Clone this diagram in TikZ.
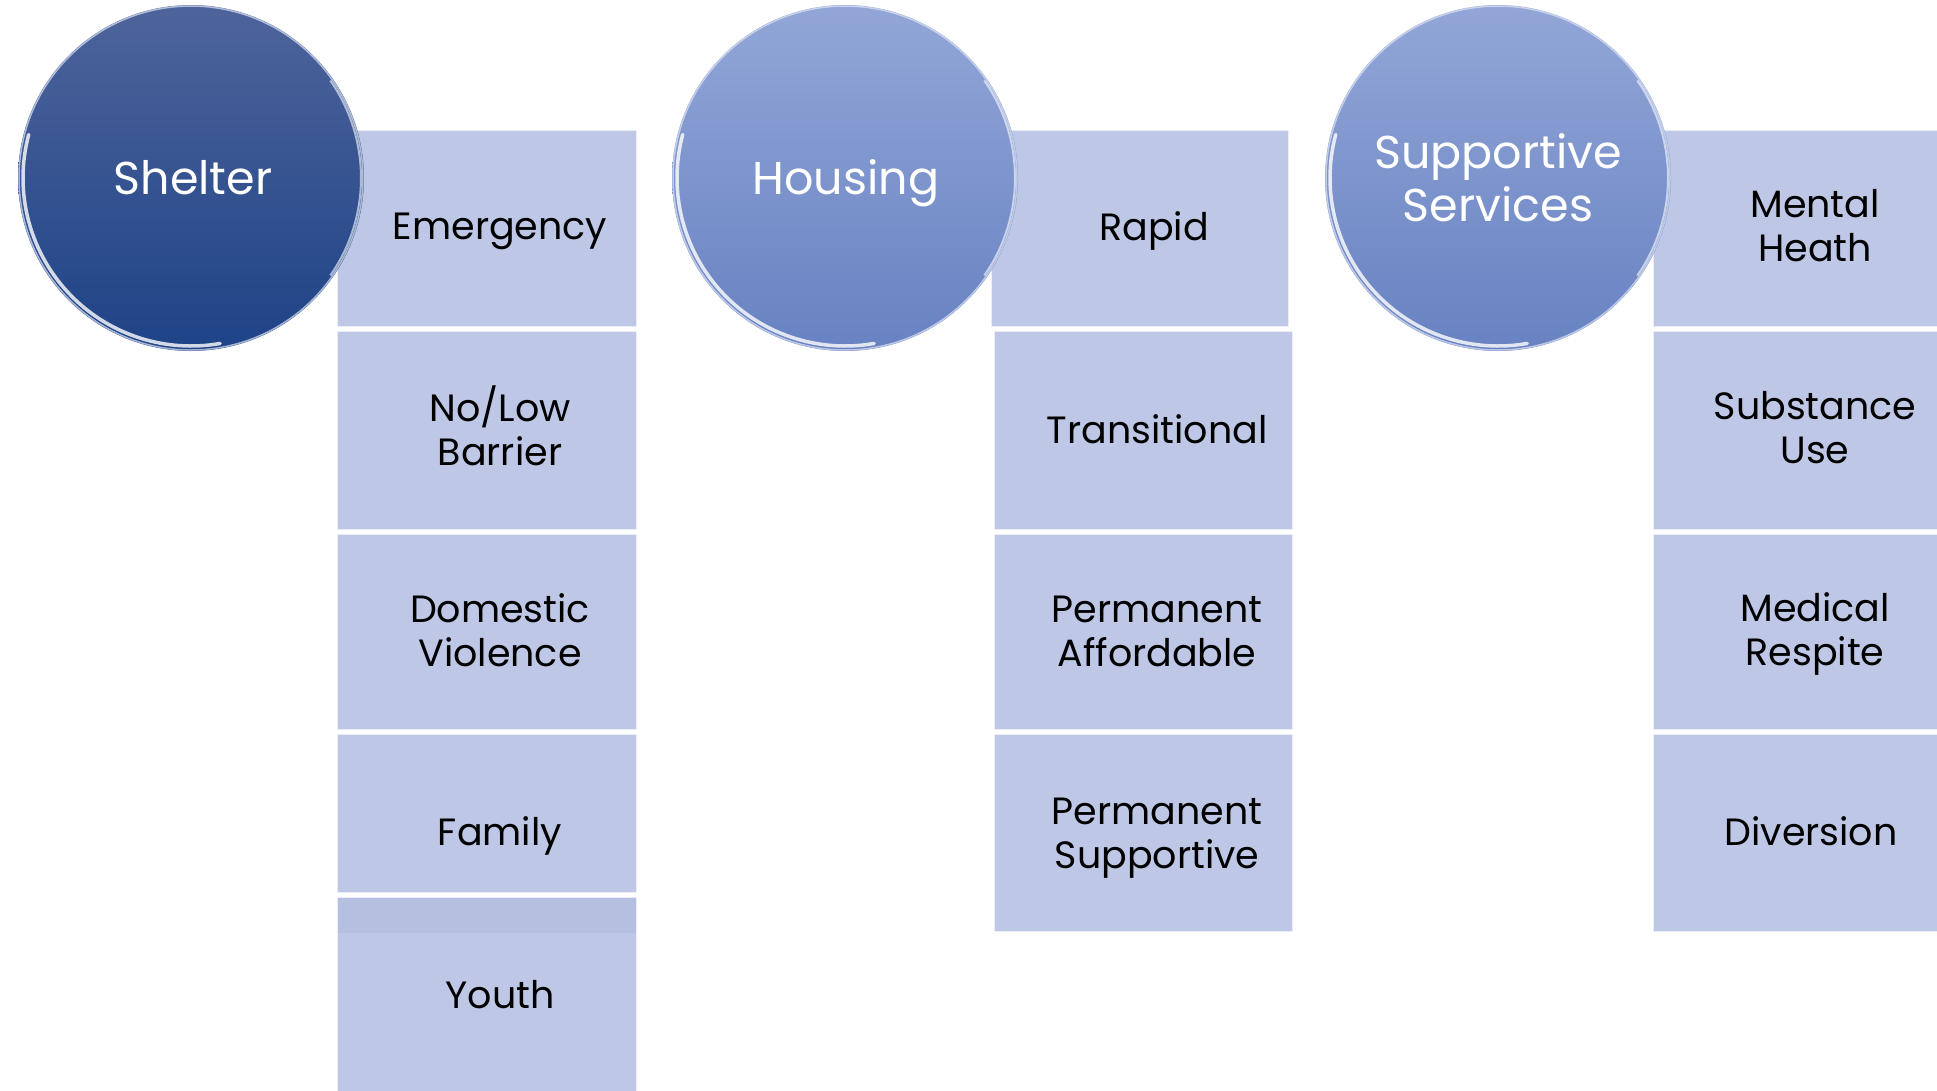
\documentclass[tikz,border=0pt]{standalone}
\usepackage{fontspec}
\setmainfont{Poppins}
\usetikzlibrary{shadings}
\definecolor{boxfill}{RGB}{190,200,230}
\definecolor{boxband}{RGB}{181,192,224}
\definecolor{shtop}{RGB}{78,100,155}
\definecolor{shbot}{RGB}{30,67,135}
\definecolor{hotop}{RGB}{146,166,215}
\definecolor{hobot}{RGB}{104,130,194}
\tikzset{
  boxnode/.style={draw=white!70!boxfill, line width=1pt, fill=boxfill, anchor=north west, inner sep=0pt},
  boxtext/.style={font=\fontsize{38}{44}\selectfont, align=center, text=black, inner sep=0pt},
  circtext/.style={font=\fontsize{46}{53}\selectfont, align=center, text=white, inner sep=0pt},
  darkball/.style={circle, minimum size=346pt, inner sep=0pt, top color=shtop, bottom color=shbot},
  lightball/.style={circle, minimum size=346pt, inner sep=0pt, top color=hotop, bottom color=hobot},
  gloss/.style={white, line width=3.5pt, opacity=0.8, line cap=round},
  rim/.style={white!70!hotop, line width=1.5pt, opacity=0.7}
}
\begin{document}
\begin{tikzpicture}[x=1pt,y=-1pt]
\useasboundingbox (0,0) rectangle (1937,1090);
\fill[white] (0,0) rectangle (1937,1090);
% Shelter column boxes
\node[boxnode, minimum width=299pt, minimum height=196pt] (b11) at (337,130) {};
\node[boxnode, minimum width=299pt, minimum height=198pt] (b12) at (337,331) {};
\node[boxnode, minimum width=299pt, minimum height=195pt] (b13) at (337,534) {};
\node[boxnode, minimum width=299pt, minimum height=158pt] (b14) at (337,734) {};
\node[boxnode, minimum width=299pt, minimum height=200pt] (b15) at (337,897) {};
\fill[boxband] ([xshift=1pt,yshift=-1pt]b15.north west) rectangle ([xshift=-1pt,yshift=-36pt]b15.north east);
% Housing column boxes
\node[boxnode, minimum width=297pt, minimum height=196pt] (b21) at (991,130) {};
\node[boxnode, minimum width=298pt, minimum height=198pt] (b22) at (994,331) {};
\node[boxnode, minimum width=298pt, minimum height=195pt] (b23) at (994,534) {};
\node[boxnode, minimum width=298pt, minimum height=197pt] (b24) at (994,734) {};
% Supportive column boxes
\node[boxnode, minimum width=300pt, minimum height=196pt] (b31) at (1653,130) {};
\node[boxnode, minimum width=300pt, minimum height=198pt] (b32) at (1653,331) {};
\node[boxnode, minimum width=300pt, minimum height=195pt] (b33) at (1653,534) {};
\node[boxnode, minimum width=300pt, minimum height=197pt] (b34) at (1653,734) {};
% box texts
\node[boxtext] (t11) at (500,231) {Emergency};
\node[boxtext] (t12) at (500,426) {No/Low\\Barrier};
\node[boxtext] (t13) at (500,630) {Domestic\\Violence};
\node[boxtext] (t14) at (500,836) {Family};
\node[boxtext] (t15) at (500,995) {Youth};
\node[boxtext] (t21) at (1154,231) {Rapid};
\node[boxtext] (t22) at (1157,429) {Transitional};
\node[boxtext] (t23) at (1157,631) {Permanent\\Affordable};
\node[boxtext] (t24) at (1157,838) {Permanent\\Supportive};
\node[boxtext] (t31) at (1815,226) {Mental\\Heath};
\node[boxtext] (t32) at (1815,428) {Substance\\Use};
\node[boxtext] (t33) at (1815,634) {Medical\\Respite};
\node[boxtext] (t34) at (1811,831) {Diversion};
% circles
\node[darkball] (c1) at (191,178) {};
\node[lightball] (c2) at (845,178) {};
\node[lightball] (c3) at (1498,178) {};
\foreach \c in {c1,c2,c3}{
  \draw[rim] (\c.center) circle[radius=172];
  \draw[gloss] ([shift={(195:168)}]\c.center) arc[start angle=195, end angle=80, radius=168];
  \draw[white, line width=2pt, opacity=0.6] ([shift={(-35:170)}]\c.center) arc[start angle=-35, end angle=35, radius=170];
}
\node[circtext] (s1) at (193,178) {Shelter};
\node[circtext] (s2) at (846,183) {Housing};
\node[circtext] (s3) at (1498,178) {Supportive\\Services};
\end{tikzpicture}
\end{document}
